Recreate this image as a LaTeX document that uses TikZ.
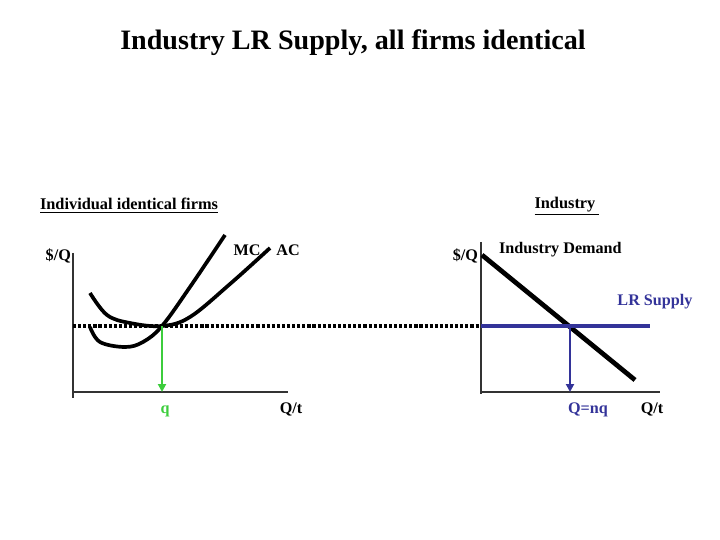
\documentclass[tikz,border=0pt]{standalone}
\usepackage{fontspec}
\setmainfont{Liberation Serif}
\usetikzlibrary{arrows.meta, positioning}
\definecolor{colorLR}{RGB}{51, 51, 153}
\definecolor{colorQ}{RGB}{60, 205, 60}

\begin{document}
\begin{tikzpicture}[
  x=0.02cm, y=-0.02cm,
  axis/.style={line width=0.6pt,black!80},
  curve/.style={line width=2.1pt,black},
  lbl/.style={font=\fontsize{9.2}{11}\selectfont\bfseries,inner sep=1pt},
  head/.style={font=\fontsize{9.3}{11}\selectfont\bfseries,inner sep=1pt},
  arr/.style={-{Triangle[length=4.5pt,width=4.5pt]},line width=1.3pt},
  dots/.style={line width=2pt,dash pattern=on 1.8pt off 1.1pt},
]
\useasboundingbox (0,0) rectangle (720,540);

% Title
\node[font=\fontsize{16}{19}\selectfont\bfseries] (title) at (353,43) {Industry LR Supply, all firms identical};

% Headings
\node[head] (firmhead) at (129,206) {\underline{Individual identical firms}};
\node[head] (indhead) at (567,206) {\underline{Industry\ }};

% Firm axes
\coordinate (fo) at (73,392);
\coordinate (ftop) at (73,253);
\coordinate (fend) at (288,392);
\draw[axis] (ftop) -- (73,398);
\draw[axis] (72,392) -- (fend);
\node[lbl, anchor=east] (fy) at (73,256) {\$/Q};
\node[lbl] (fx) at (291,409) {Q/t};

% Industry axes
\coordinate (io) at (481,392);
\coordinate (itop) at (481,242);
\coordinate (iend) at (660,392);
\draw[axis] (itop) -- (481,394);
\draw[axis] (io) -- (iend);
\node[lbl, anchor=east] (iy) at (480,256) {\$/Q};
\node[lbl] (ix) at (652,409) {Q/t};

% Long-run price
\coordinate (pmin) at (162,326);
\draw[dots] (73,326) -- (480,326);

% Cost curves
\draw[curve] plot[smooth, tension=0.6] coordinates {(90,327) (100,342) (125,347) (143,342) (162,326) (190,287) (225,235)};
\draw[curve] plot[smooth, tension=0.6] coordinates {(90,293) (107,315) (130,323) (162,326) (190,317) (230,284) (270,248)};
\node[lbl] (mc) at (247,250) {MC};
\node[lbl] (ac) at (288,250) {AC};

% Firm output
\coordinate (qfoot) at (162,392);
\draw[arr, colorQ] (pmin) -- (qfoot);
\node[lbl, colorQ] (q) at (165,411) {q};

% Demand and supply
\coordinate (dtop) at (482,255);
\coordinate (dend) at (635,380);
\draw[line width=2.7pt, black] (dtop) -- (dend);
\node[lbl, anchor=west] (dem) at (497,250) {Industry Demand};
\coordinate (sl) at (481,326);
\coordinate (sr) at (650,326);
\draw[line width=2pt, colorLR] (sl) -- (sr);
\node[lbl, colorLR] (lrs) at (655,302) {LR Supply};

% Industry output
\coordinate (qeq) at (570,326);
\coordinate (Qfoot) at (570,392);
\draw[arr, colorLR] (qeq) -- (Qfoot);
\node[lbl, colorLR] (Q) at (588,410) {Q=nq};

\end{tikzpicture}
\end{document}
